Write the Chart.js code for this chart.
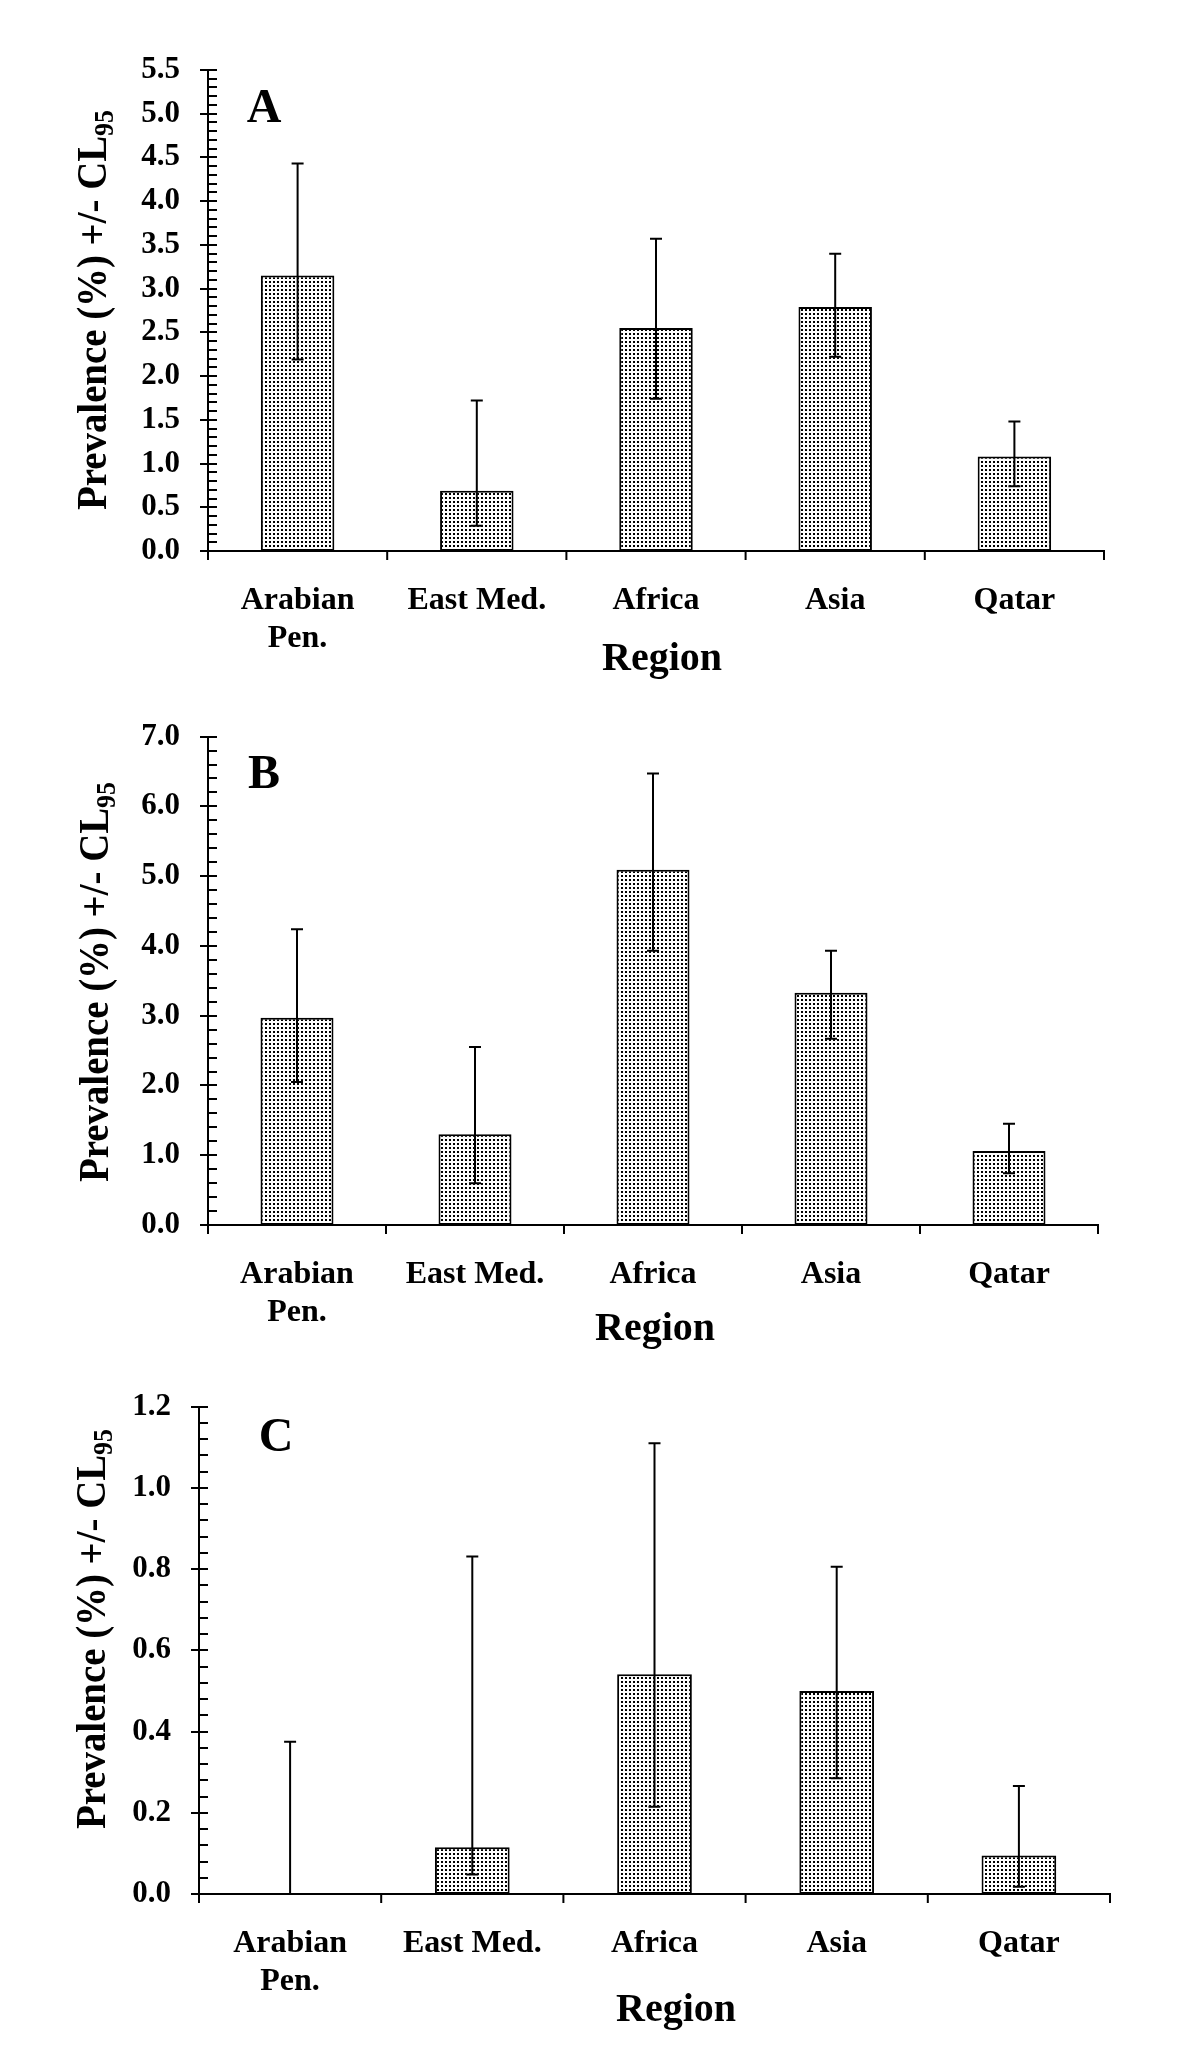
<!DOCTYPE html>
<html><head><meta charset="utf-8">
<script src="https://cdn.jsdelivr.net/npm/chart.js@4.4.1/dist/chart.umd.min.js"></script>
<style>
html,body{margin:0;padding:0;background:#fff;}
#wrap{position:relative;width:1200px;height:2059px;background:#fff;}
canvas{position:absolute;left:0;display:block;}
</style></head><body>
<div id="wrap">
<canvas id="cA" width="1200" height="690" style="top:0px"></canvas>
<canvas id="cB" width="1200" height="670" style="top:690px"></canvas>
<canvas id="cC" width="1200" height="699" style="top:1360px"></canvas>
</div>
<script>
// ---- data ----
const categories = [['Arabian','Pen.'], 'East Med.', 'Africa', 'Asia', 'Qatar'];
const prevalenceA = [3.15, 0.69, 2.55, 2.79, 1.08];
const lowerA      = [2.19, 0.29, 1.74, 2.22, 0.74];
const upperA      = [4.43, 1.72, 3.57, 3.40, 1.48];
const prevalenceB = [2.97, 1.30, 5.09, 3.33, 1.06];
const lowerB      = [2.05, 0.60, 3.93, 2.67, 0.74];
const upperB      = [4.24, 2.55, 6.47, 3.93, 1.45];
const prevalenceC = [0, 0.115, 0.541, 0.500, 0.095];
const lowerC      = [0, 0.048, 0.215, 0.285, 0.018];
const upperC      = [0.375, 0.831, 1.110, 0.806, 0.266];
const yMaxes  = [5.5, 7.0, 1.2];
const ySteps  = [0.5, 1.0, 0.2];
const yMinors = [0.1, 0.2, 0.04];
const panelLetters = ['A', 'B', 'C'];
const yTitle = 'Prevalence (%) +/- CL';
const yTitleSub = '95';
const xTitle = 'Region';

// ---- layout (canvas coords) ----
const layouts = [
  {id:'cA', H:690, left:208, right:1104, top:70, bottom:551, letter:[264,110], region:[662,660], ytitle:[106,310]},
  {id:'cB', H:670, left:208, right:1098, top:46, bottom:535, letter:[264,86],  region:[655,640], ytitle:[108,292]},
  {id:'cC', H:699, left:199, right:1110, top:32, bottom:534, letter:[276,79],  region:[676,651], ytitle:[105,269]}
];
const FONT = '"Liberation Serif", "Times New Roman", serif';

function makePattern(ctx) {
  const c = document.createElement('canvas');
  c.width = 4; c.height = 4;
  const g = c.getContext('2d');
  g.fillStyle = '#fff'; g.fillRect(0, 0, 4, 4);
  g.fillStyle = '#000'; g.fillRect(1, 1, 2, 2);
  return ctx.createPattern(c, 'repeat');
}

const decor = {
  id: 'decor',
  afterDatasetsDraw(chart, args, opts) {
    const ctx = chart.ctx, xs = chart.scales.x, ys = chart.scales.y;
    ctx.save();
    ctx.strokeStyle = '#000'; ctx.lineWidth = 2;
    for (let i = 0; i < opts.lo.length; i++) {
      const x = xs.getPixelForValue(i);
      const yl = ys.getPixelForValue(opts.lo[i]);
      const yu = ys.getPixelForValue(opts.hi[i]);
      ctx.beginPath();
      ctx.moveTo(x, yl); ctx.lineTo(x, yu);
      ctx.moveTo(x - 6, yu); ctx.lineTo(x + 6, yu);
      ctx.moveTo(x - 6, yl); ctx.lineTo(x + 6, yl);
      ctx.stroke();
    }
    ctx.restore();
  },
  afterDraw(chart, args, opts) {
    const ctx = chart.ctx, xs = chart.scales.x, ys = chart.scales.y, a = chart.chartArea;
    ctx.save();
    ctx.strokeStyle = '#000'; ctx.lineWidth = 2;
    // y ticks: major cross the axis, minor inside
    const n = Math.round(opts.max / opts.minor);
    const ratio = Math.round(opts.step / opts.minor);
    ctx.beginPath();
    for (let k = 0; k <= n; k++) {
      const y = Math.round(ys.getPixelForValue(k * opts.minor));
      if (k % ratio === 0) { ctx.moveTo(a.left - 8, y); ctx.lineTo(a.left + 9, y); }
      else { ctx.moveTo(a.left, y); ctx.lineTo(a.left + 9, y); }
    }
    // x ticks at category boundaries
    for (let i = 0; i <= opts.lo.length; i++) {
      const x = xs.getPixelForValue(i - 0.5);
      ctx.moveTo(x, a.bottom); ctx.lineTo(x, a.bottom + 9);
    }
    ctx.stroke();
    // panel letter
    ctx.fillStyle = '#000';
    ctx.font = 'bold 48px ' + FONT;
    ctx.textAlign = 'center'; ctx.textBaseline = 'middle';
    ctx.fillText(opts.letter, opts.L.letter[0], opts.L.letter[1]);
    // x title
    ctx.font = 'bold 40px ' + FONT;
    ctx.fillText(xTitle, opts.L.region[0], opts.L.region[1]);
    // y title (rotated, with subscript), fitted to the reference length
    ctx.translate(opts.L.ytitle[0], opts.L.ytitle[1]);
    ctx.rotate(-Math.PI / 2);
    ctx.textAlign = 'left'; ctx.textBaseline = 'alphabetic';
    ctx.font = 'bold 42px ' + FONT;
    const w1 = ctx.measureText(yTitle).width;
    ctx.font = 'bold 28px ' + FONT;
    const w2 = ctx.measureText(yTitleSub).width;
    const sx = 400 / (w1 + w2);
    ctx.scale(sx, 1);
    const x0 = -(w1 + w2) / 2;
    ctx.font = 'bold 42px ' + FONT;
    ctx.fillText(yTitle, x0, 0);
    ctx.font = 'bold 28px ' + FONT;
    ctx.fillText(yTitleSub, x0 + w1, 7);
    ctx.restore();
  }
};

const dataSets = [[prevalenceA, lowerA, upperA], [prevalenceB, lowerB, upperB], [prevalenceC, lowerC, upperC]];

layouts.forEach((L, p) => {
  const canvas = document.getElementById(L.id);
  const ctx = canvas.getContext('2d');
  const [vals, lo, hi] = dataSets[p];
  new Chart(ctx, {
    type: 'bar',
    data: {
      labels: categories,
      datasets: [{
        data: vals,
        backgroundColor: makePattern(ctx),
        borderColor: '#000',
        borderWidth: 2,
        borderSkipped: false,
        barPercentage: 0.41,
        categoryPercentage: 1.0
      }]
    },
    options: {
      responsive: false,
      animation: false,
      events: [],
      layout: { padding: { top: L.top, right: 1200 - L.right, bottom: 0, left: 0 } },
      plugins: {
        legend: { display: false },
        tooltip: { enabled: false },
        decor: { lo: lo, hi: hi, max: yMaxes[p], step: ySteps[p], minor: yMinors[p], letter: panelLetters[p], L: L }
      },
      scales: {
        x: {
          type: 'category',
          offset: true,
          grid: { display: false, drawTicks: false, tickLength: 0 },
          border: { display: true, color: '#000', width: 2 },
          ticks: { color: '#000', font: { family: FONT, weight: 'bold', size: 32, lineHeight: 1.18 }, padding: 31, maxRotation: 0, autoSkip: false },
          afterFit: (s) => { s.height = L.H - L.bottom; }
        },
        y: {
          min: 0, max: yMaxes[p],
          grid: { display: false, drawTicks: false, tickLength: 0 },
          border: { display: true, color: '#000', width: 2 },
          ticks: { stepSize: ySteps[p], color: '#000', font: { family: FONT, weight: 'bold', size: 31 }, padding: 28,
                   callback: (v) => Number(v).toFixed(1) },
          afterFit: (s) => { s.width = L.left; }
        }
      }
    },
    plugins: [decor]
  });
});
</script>
</body></html>
